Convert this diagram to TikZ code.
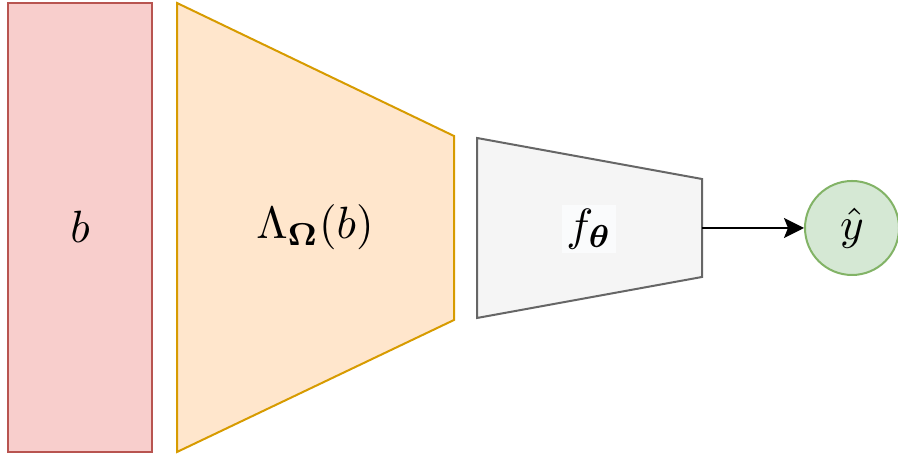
\RequirePackage{fix-cm}
\documentclass[tikz,border=0pt]{standalone}
\usepackage{amsmath,bm}
\usetikzlibrary{arrows.meta}
\definecolor{redfill}{HTML}{F8CECC}
\definecolor{redline}{HTML}{B85450}
\definecolor{orafill}{HTML}{FFE6CC}
\definecolor{oraline}{HTML}{D79B00}
\definecolor{grayfill}{HTML}{F5F5F5}
\definecolor{grayline}{HTML}{666666}
\definecolor{grnfill}{HTML}{D5E8D4}
\definecolor{grnline}{HTML}{82B366}
\definecolor{labelbg}{HTML}{FAFBFC}
\begin{document}
\begin{tikzpicture}[x=0.25pt,y=-0.25pt,
  shape line/.style={line width=0.5pt, line join=miter},
  txt/.style={font=\fontsize{11.3}{13.5}\selectfont, inner sep=0pt},
  arr/.style={line width=0.5pt, -{Stealth[length=5pt,width=5pt,inset=1pt]}}]
\useasboundingbox (0,0) rectangle (898,456);
% red block
\node[shape line, draw=redline, fill=redfill, rectangle, inner sep=0pt,
      minimum width=36pt, minimum height=112.25pt] (b) at (80,227.5) {};
\node[txt] (blabel) at (80,227) {$b$};
% orange trapezoid
\filldraw[shape line, draw=oraline, fill=orafill]
  (177,3) -- (454,136) -- (454,320) -- (177,452) -- cycle;
\node[txt] (lam) at (315,227) {$\Lambda_{\boldsymbol{\Omega}}(b)$};
% gray trapezoid
\filldraw[shape line, draw=grayline, fill=grayfill]
  (477,138) -- (702,179) -- (702,277) -- (477,318) -- cycle;
\coordinate (fout) at (702,228);
\node[txt, fill=labelbg, inner sep=1pt] (f) at (589,229) {$f_{\boldsymbol{\theta}}$};
% output circle
\node[shape line, draw=grnline, fill=grnfill, circle, inner sep=0pt,
      minimum size=23.5pt] (y) at (852,228) {};
\node[txt] (ylabel) at (852,228) {$\hat{y}$};
\draw[arr] (fout) -- (y.west);
\end{tikzpicture}
\end{document}
